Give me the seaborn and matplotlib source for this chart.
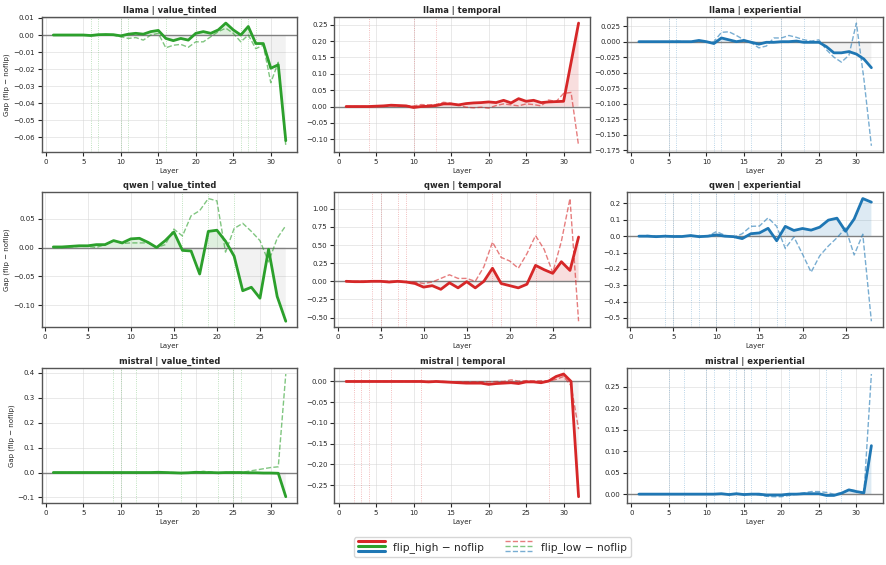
import numpy as np
import matplotlib
matplotlib.use("Agg")
import matplotlib.pyplot as plt
import seaborn as sns
from matplotlib.lines import Line2D
from matplotlib.legend_handler import HandlerBase

models = ["llama", "qwen", "mistral"]
dims = ["value_tinted", "temporal", "experiential"]
dim_colors = {"value_tinted": "#2ca02c", "temporal": "#d62728", "experiential": "#1f77b4"}

# llama (32 layers)
llama_value_high = [0, 0, 0, 0, 0, -0.0003, 0.0002, 0.0003, 0.0002, -0.0005, 0.0005, 0.001, 0.0005, 0.002, 0.0027, -0.002,
                    -0.0033, -0.002, -0.003, 0.001, 0.002, 0.001, 0.003, 0.007, 0.003, 0.0, 0.005, -0.005, -0.005, -0.0195, -0.0175, -0.062]
llama_value_low = [0, 0, 0, 0, 0, -0.0003, -0.0002, 0.0002, 0.0, -0.001, -0.002, -0.0015, -0.003, 0.0, 0.001, -0.0075,
                   -0.006, -0.0055, -0.0072, -0.004, -0.004, -0.001, 0.002, 0.004, 0.001, -0.004, 0.0, -0.008, -0.006, -0.028, -0.016, -0.065]
llama_value_sig = [6, 7, 10, 11, 16, 20, 26, 27, 28]

llama_temporal_high = [0, 0, 0, 0, 0.001, 0.002, 0.004, 0.003, 0.002, -0.003, 0.0, 0.001, 0.003, 0.008, 0.008, 0.005,
                       0.009, 0.011, 0.012, 0.014, 0.012, 0.019, 0.011, 0.024, 0.016, 0.019, 0.012, 0.014, 0.015, 0.016, 0.135, 0.255]
llama_temporal_low = [0, 0, 0, 0, 0.001, 0.001, 0.002, 0.002, 0.001, 0.002, 0.006, 0.005, 0.006, 0.013, 0.01, 0.004,
                      -0.002, -0.004, -0.002, -0.005, 0.003, 0.008, 0.005, 0.002, 0.008, 0.006, 0.002, 0.02, 0.015, 0.04, 0.043, -0.12]
llama_temporal_sig = [4, 10, 13]

llama_exp_high = [0, 0, 0, 0, 0, 0, 0, 0, 0.002, 0.0, -0.003, 0.006, 0.003, 0.0, 0.002, -0.001,
                  -0.004, -0.001, -0.001, 0.0, 0.0, 0.001, -0.001, -0.001, -0.001, -0.008, -0.018, -0.018, -0.016, -0.02, -0.028, -0.042]
llama_exp_low = [0, 0, 0, 0, 0, 0.001, 0, 0, 0.001, 0.0, 0.0, 0.015, 0.016, 0.01, 0.003, -0.002,
                 -0.01, -0.007, 0.006, 0.006, 0.01, 0.007, 0.003, 0.001, 0.003, -0.013, -0.025, -0.033, -0.022, 0.03, -0.06, -0.168]
llama_exp_sig = [5, 6, 11, 12, 16, 20, 23]

# qwen (28 layers)
qwen_value_high = [0.001, 0.001, 0.002, 0.003, 0.003, 0.005, 0.005, 0.012, 0.008, 0.015, 0.016, 0.009, 0.0, 0.012,
                   0.027, -0.005, -0.006, -0.046, 0.028, 0.030, 0.011, -0.015, -0.075, -0.069, -0.088, -0.003, -0.085, -0.128]
qwen_value_low = [0.0, 0.0, 0.001, 0.002, 0.002, 0.0, 0.005, 0.012, 0.007, 0.008, 0.008, 0.008, 0.0, 0.005,
                  0.032, 0.020, 0.055, 0.064, 0.085, 0.081, -0.008, 0.033, 0.042, 0.028, 0.012, -0.025, 0.016, 0.038]
qwen_value_sig = [16, 19, 22]

qwen_temporal_high = [0.0, -0.005, -0.005, 0.0, 0.0, -0.01, 0.0, -0.01, -0.03, -0.08, -0.06, -0.11, -0.02, -0.09,
                      -0.005, -0.09, 0.0, 0.18, -0.03, -0.06, -0.09, -0.04, 0.22, 0.16, 0.11, 0.27, 0.15, 0.61]
qwen_temporal_low = [0.0, 0.0, 0.0, 0.0, 0.0, 0.0, 0.0, -0.005, -0.01, -0.03, -0.01, 0.04, 0.09, 0.04,
                     0.04, 0.0, 0.2, 0.54, 0.33, 0.28, 0.18, 0.38, 0.63, 0.44, 0.12, 0.55, 1.14, -0.55]
qwen_temporal_sig = [4, 5, 7, 8, 18, 19, 23]

qwen_exp_high = [0.0, 0.0, -0.003, 0.0, -0.002, -0.002, 0.004, -0.003, 0.0, 0.008, 0.0, -0.003, -0.015, 0.015,
                 0.02, 0.048, -0.028, 0.06, 0.035, 0.047, 0.037, 0.055, 0.098, 0.11, 0.03, 0.105, 0.23, 0.208]
qwen_exp_low = [0.0, 0.005, 0.0, 0.002, 0.0, 0.0, 0.003, 0.0, 0.0, 0.028, 0.005, -0.007, 0.015, 0.06,
                0.062, 0.112, 0.06, -0.075, -0.005, -0.11, -0.22, -0.12, -0.06, -0.01, 0.05, -0.115, 0.012, -0.52]
qwen_exp_sig = [4, 5, 7, 8, 10, 12, 14, 17, 18]

# mistral (32 layers)
mistral_value_high = [0, 0, 0, 0, 0, 0, 0, 0, 0, 0, 0, 0, 0, 0, 0.001, 0.0,
                      -0.001, -0.002, -0.001, 0.001, 0.0, 0.0, -0.001, 0.0, 0.0, 0.0, -0.001, -0.001, -0.002, -0.002, -0.003, -0.097]
mistral_value_low = [0, 0, 0, 0, 0, 0, 0, 0, 0, 0, 0, 0, 0, 0, 0.0, 0.0,
                     0.0, -0.001, -0.003, 0.0, 0.005, 0.002, -0.003, 0.0, 0.002, 0.0, 0.005, 0.01, 0.015, 0.02, 0.023, 0.395]
mistral_value_sig = [9, 10, 12, 18, 23, 25, 26]

mistral_temporal_high = [0, 0, 0, 0, 0, 0, 0, 0, 0, 0, 0, -0.001, 0.0, -0.001, -0.002, -0.003,
                         -0.004, -0.004, -0.004, -0.007, -0.005, -0.004, -0.003, -0.005, -0.001, -0.001, -0.003, 0.001, 0.012, 0.018, 0.0, -0.278]
mistral_temporal_low = [0, 0, 0, 0, 0, 0, 0, 0, 0, 0, 0, 0, 0, 0, -0.001, -0.001,
                        -0.001, -0.001, -0.001, -0.001, 0.0, 0.0, 0.004, 0.001, 0.002, 0.001, 0.002, 0.001, 0.005, 0.012, -0.01, -0.115]
mistral_temporal_sig = [2, 3, 4, 7, 11, 28]

mistral_exp_high = [0, 0, 0, 0, 0, 0, 0, 0, 0, 0, 0, 0.001, -0.001, 0.001, -0.001, 0.0,
                    0.0, -0.002, -0.002, -0.002, 0.0, 0.0, 0.001, 0.001, 0.001, -0.003, -0.003, 0.002, 0.01, 0.006, 0.003, 0.113]
mistral_exp_low = [0, 0, 0, 0, 0, 0, 0, 0, 0, 0, 0, 0, 0, 0, 0.0, 0.0,
                   -0.002, -0.005, -0.006, -0.006, -0.003, 0.0, 0.003, 0.006, 0.006, 0.004, 0.0, 0.003, 0.01, 0.008, 0.0, 0.28]
mistral_exp_sig = [5, 7, 10, 11, 13, 14, 15, 16, 18, 21, 26, 28]

panels = {
    ("llama", "value_tinted"): (llama_value_high, llama_value_low, llama_value_sig),
    ("llama", "temporal"): (llama_temporal_high, llama_temporal_low, llama_temporal_sig),
    ("llama", "experiential"): (llama_exp_high, llama_exp_low, llama_exp_sig),
    ("qwen", "value_tinted"): (qwen_value_high, qwen_value_low, qwen_value_sig),
    ("qwen", "temporal"): (qwen_temporal_high, qwen_temporal_low, qwen_temporal_sig),
    ("qwen", "experiential"): (qwen_exp_high, qwen_exp_low, qwen_exp_sig),
    ("mistral", "value_tinted"): (mistral_value_high, mistral_value_low, mistral_value_sig),
    ("mistral", "temporal"): (mistral_temporal_high, mistral_temporal_low, mistral_temporal_sig),
    ("mistral", "experiential"): (mistral_exp_high, mistral_exp_low, mistral_exp_sig),
}


# legend key: three colored lines stacked on top of each other
class StackedLines(HandlerBase):
    def __init__(self, colors, ls, alpha, lw):
        super().__init__()
        self.colors, self.ls, self.alpha, self.lw = colors, ls, alpha, lw

    def create_artists(self, legend, orig_handle, xdescent, ydescent, width, height, fontsize, trans):
        arts = []
        for i, c in enumerate(self.colors):
            y = -ydescent + height / 2 + (1 - i) * 3.6
            ln = Line2D([-xdescent, -xdescent + width], [y, y], color=c, ls=self.ls,
                        alpha=self.alpha, lw=self.lw, transform=trans)
            arts.append(ln)
        return arts


sns.set_theme(style="ticks")
plt.rcParams["font.family"] = ["DejaVu Sans"]

fig, axes = plt.subplots(3, 3, figsize=(8.87, 5.65), dpi=100)
fig.subplots_adjust(left=0.047, right=0.9955, top=0.97, bottom=0.11, wspace=0.145, hspace=0.30)

for r, m in enumerate(models):
    for c, d in enumerate(dims):
        ax = axes[r, c]
        high, low, sig = panels[(m, d)]
        col = dim_colors[d]
        layers = np.arange(1, len(high) + 1)
        h = np.array(high)
        for s in sig:
            ax.axvline(s, color=col, ls=":", lw=0.6, alpha=0.4, zorder=1)
        ax.axhline(0, color="gray", lw=1, zorder=2)
        ax.fill_between(layers, h, 0, where=h >= 0, interpolate=True, color=col, alpha=0.15, lw=0, zorder=1)
        ax.fill_between(layers, h, 0, where=h < 0, interpolate=True, color="gray", alpha=0.1, lw=0, zorder=1)
        sns.lineplot(x=layers, y=low, ax=ax, color=col, lw=1.0, ls="--", alpha=0.6, zorder=3)
        sns.lineplot(x=layers, y=high, ax=ax, color=col, lw=2.0, zorder=4)
        ax.set_title(f"{m} | {d}", fontsize=6, fontweight="bold", pad=3)
        ax.set_xlabel("Layer", fontsize=5, labelpad=2)
        ax.set_ylabel("Gap (flip − noflip)" if c == 0 else "", fontsize=5, labelpad=2)
        ax.tick_params(labelsize=5, length=3, width=0.8, pad=2)
        ax.grid(True, color="lightgray", alpha=0.5, lw=0.7)
        for sp in ax.spines.values():
            sp.set_color("#555555")
            sp.set_linewidth(1.0)

clrs = [dim_colors["temporal"], dim_colors["value_tinted"], dim_colors["experiential"]]
h1 = Line2D([], [])
h2 = Line2D([], [])
fig.legend([h1, h2], ["flip_high − noflip", "flip_low − noflip"],
           handler_map={h1: StackedLines(clrs, "-", 1.0, 2.2), h2: StackedLines(clrs, "--", 0.6, 1.0)},
           loc="lower center", bbox_to_anchor=(0.555, 0.005), ncol=2, fontsize=7.7,
           handlelength=2.5, columnspacing=2.0, frameon=True)

fig.savefig("out.png", dpi=100)
